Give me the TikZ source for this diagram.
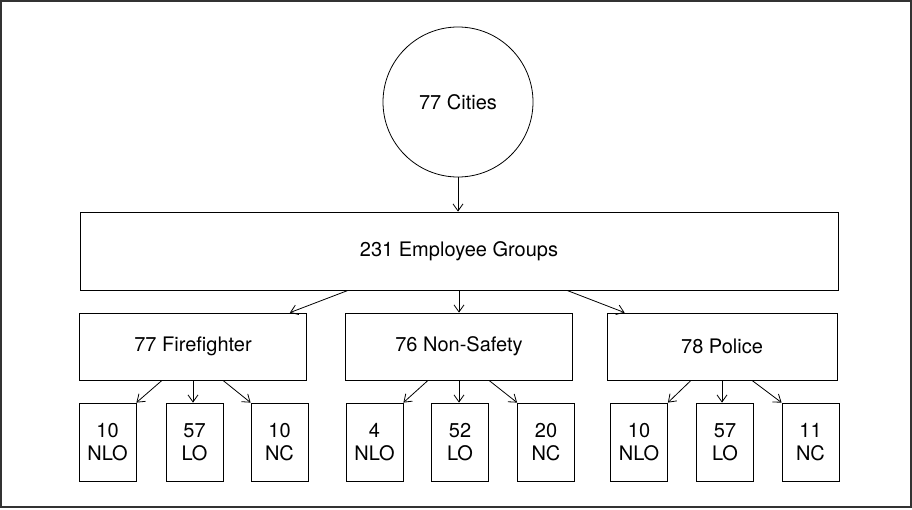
\documentclass[tikz,border=0pt]{standalone}
\usepackage{fontspec}
\setmainfont{TeX Gyre Heros}
\usetikzlibrary{arrows.meta}
\begin{document}
\begin{tikzpicture}[x=1pt,y=-1pt,
  every node/.style={font=\fontsize{20}{23}\selectfont, inner sep=0pt, line width=0.8pt},
  bigbox/.style={draw, rectangle, minimum width=758pt, minimum height=78pt},
  midbox/.style={draw, rectangle, minimum width=227pt, minimum height=67pt},
  smallbox/.style={draw, rectangle, minimum width=57pt, minimum height=78pt, align=center},
  conn/.style={line width=0.8pt, -{Straight Barb[length=7pt,width=10pt]}}]
\useasboundingbox (0,0) rectangle (912,509);
\draw[line width=1.6pt, black!80] (1,1) rectangle (911,507);
\node[draw, circle, minimum size=150pt] (cities) at (458,102) {77 Cities};
\node[bigbox] (groups) at (459,251) {231 Employee Groups};
\node[midbox] (ff) at (193,346.5) {77 Firefighter};
\node[midbox] (ns) at (459,346.5) {76 Non-Safety};
\node[midbox, minimum width=230pt] (po) at (722,346.5) {78 Police};
\node[smallbox] (f1) at (107.5,442) {10\\NLO};
\node[smallbox] (f2) at (194.5,442) {57\\LO};
\node[smallbox] (f3) at (279.5,442) {10\\NC};
\node[smallbox] (n1) at (374.5,442) {4\\NLO};
\node[smallbox] (n2) at (460,442) {52\\LO};
\node[smallbox] (n3) at (546,442) {20\\NC};
\node[smallbox] (p1) at (639,442) {10\\NLO};
\node[smallbox] (p2) at (725,442) {57\\LO};
\node[smallbox] (p3) at (810.5,442) {11\\NC};
\draw[conn] (cities.south) -- (groups.north -| cities.south);
\draw[conn] ([xshift=-111pt]groups.south) -- ([xshift=-17pt]ff.north east);
\draw[conn] (groups.south) -- (ns.north);
\draw[conn] ([xshift=108pt]groups.south) -- ([xshift=18pt]po.north west);
\foreach \m/\a/\b/\c in {ff/f1/f2/f3, ns/n1/n2/n3, po/p1/p2/p3}{
  \draw[conn] ([xshift=-31pt]\m.south) -- (\a.north east);
  \draw[conn] (\m.south) -- (\m.south |- \b.north);
  \draw[conn] ([xshift=30pt]\m.south) -- (\c.north west);
}
\end{tikzpicture}
\end{document}
